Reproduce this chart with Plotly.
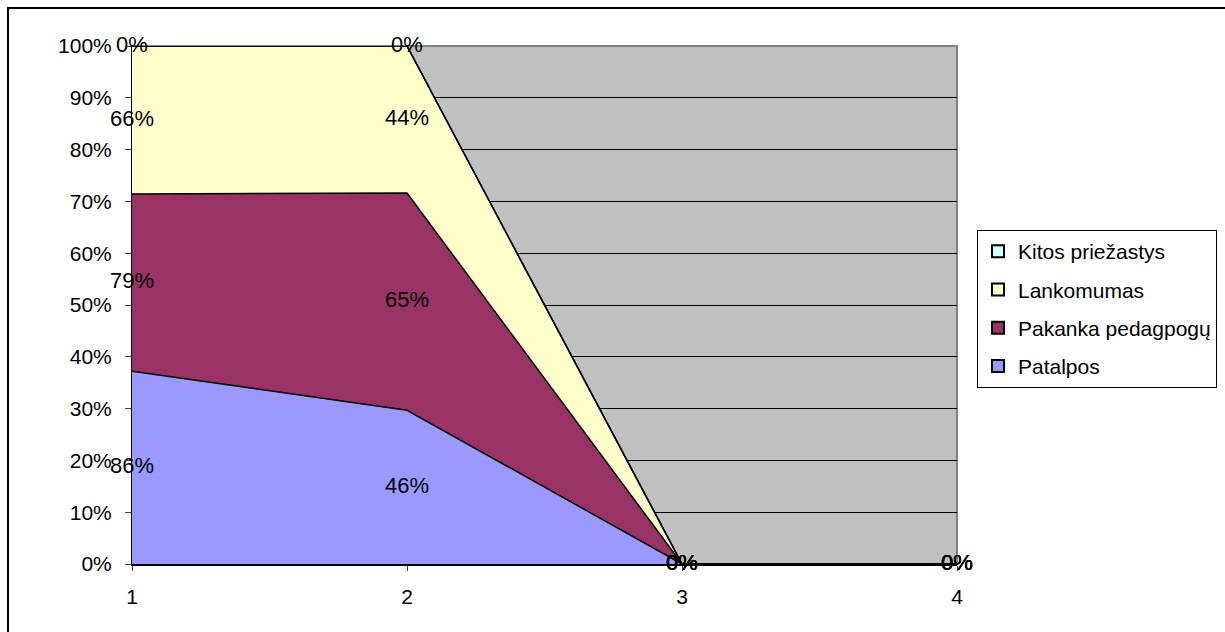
import numpy as np
import plotly.graph_objects as go

categories = [1, 2, 3, 4]
series_names = ["Patalpos", "Pakanka pedagpogų", "Lankomumas", "Kitos priežastys"]
patalpos = [86, 46, 0, 0]
pakanka = [79, 65, 0, 0]
lankomumas = [66, 44, 0, 0]
kitos = [0, 0, 0, 0]
colors = ["#9999FF", "#993366", "#FFFFCC", "#CCFFFF"]
y_ticks = [0, 10, 20, 30, 40, 50, 60, 70, 80, 90, 100]

values = np.array([patalpos, pakanka, lankomumas, kitos], dtype=float)
totals = values.sum(axis=0)
pct = np.where(totals > 0, values / np.where(totals > 0, totals, 1) * 100, 0)
cum = np.cumsum(pct, axis=0)
mids = cum - pct / 2

FONT = "Arial, Liberation Sans, sans-serif"
fig = go.Figure()

for i, name in enumerate(series_names):
    fig.add_trace(go.Scatter(
        x=categories, y=pct[i], stackgroup="one", mode="lines",
        line=dict(color="black", width=1.5), fillcolor=colors[i],
        name=name, showlegend=False, hoverinfo="skip"))

for i, name in enumerate(series_names):
    fig.add_trace(go.Scatter(
        x=categories, y=mids[i], mode="text",
        text=[f"{int(v)}%" for v in values[i]],
        textposition="middle center", cliponaxis=False,
        textfont=dict(family=FONT, size=22, color="black"),
        showlegend=False, hoverinfo="skip"))

for i in reversed(range(len(series_names))):
    fig.add_trace(go.Scatter(
        x=[None], y=[None], mode="markers", name=series_names[i],
        legendgroup=f"g{i}",
        marker=dict(symbol="square", size=12, color=colors[i],
                    line=dict(color="black", width=1))))

fig.add_shape(type="rect", xref="x domain", yref="y domain",
              x0=0, x1=1, y0=0, y1=1, line=dict(color="#808080", width=2),
              layer="below")
fig.add_shape(type="rect", xref="paper", yref="paper",
              x0=-124/825, x1=1.5, y0=-0.3, y1=1 + 38/518,
              line=dict(color="black", width=2))

fig.update_layout(
    width=1225, height=632,
    margin=dict(l=132, r=268, t=46, b=68, autoexpand=False),
    paper_bgcolor="white", plot_bgcolor="#C0C0C0",
    font=dict(family=FONT, size=21, color="black"),
    showlegend=True,
    legend=dict(x=845/825, y=334/518, xanchor="left", yanchor="top",
                bordercolor="black", borderwidth=1, bgcolor="white",
                font=dict(family=FONT, size=21), traceorder="grouped",
                tracegroupgap=8, itemsizing="constant", itemwidth=30),
    xaxis=dict(range=[1, 4], tickvals=categories, ticktext=[str(c) for c in categories],
               showgrid=False, zeroline=False, showline=True, linecolor="black",
               linewidth=2, ticks="outside", ticklen=5, tickcolor="#404040",
               ticklabelstandoff=8),
    yaxis=dict(range=[0, 100], tickvals=y_ticks, ticktext=[f"{t}%" for t in y_ticks],
               showgrid=True, gridcolor="black", gridwidth=1, zeroline=False,
               showline=True, linecolor="black", linewidth=1,
               ticks="outside", ticklen=6, tickcolor="#404040",
               ticklabelstandoff=9),
)

fig.write_html("out.html", config={"displayModeBar": False},
               post_script="document.body.style.margin='0';document.body.style.overflow='hidden';")
